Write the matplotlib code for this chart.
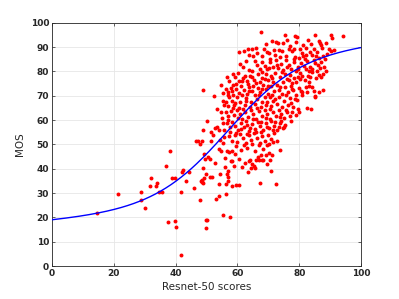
import numpy as np
import matplotlib
matplotlib.use("Agg")
import matplotlib.pyplot as plt

# -------------------------------
# DATA
# -------------------------------
# sparse points, lower-left part of the cloud
low_x = [14.5, 21.3, 28.8, 28.8, 30.2, 32.2, 31.6, 34.0, 33.6, 34.8, 35.7,
         36.8, 38.1, 38.7, 39.8, 37.7, 39.7, 40.0, 41.6, 41.9, 42.1, 42.5,
         43.5, 44.5, 46.0, 46.5, 47.3, 47.8, 47.8, 48.5, 48.5, 48.8, 49.0,
         49.3, 49.6, 49.0, 48.3, 48.8, 49.2, 49.7, 50.0, 50.2, 50.0, 51.2,
         51.8, 52.4, 52.6, 53.0, 53.9, 54.0, 54.4, 54.8, 55.5, 56.2, 56.3,
         56.8, 56.6, 56.9, 57.0, 56.1, 57.6, 57.8, 58.1, 58.1, 59.7, 60.4,
         48.6, 50.3, 50.5, 51.0]
low_y = [22.0, 29.5, 30.5, 27.2, 24.0, 36.0, 33.0, 34.0, 32.8, 30.3, 30.3,
         41.3, 47.5, 36.0, 36.0, 18.0, 18.5, 16.0, 4.5, 30.5, 38.5, 39.5,
         35.0, 38.5, 32.2, 51.2, 51.6, 50.0, 27.0, 34.5, 35.5, 72.3, 56.0,
         46.0, 44.0, 40.5, 35.0, 34.0, 36.0, 37.8, 19.0, 19.0, 15.5, 36.7,
         36.7, 70.0, 42.5, 27.4, 28.8, 33.6, 38.0, 74.4, 21.0, 29.7, 33.7,
         35.0, 38.0, 39.2, 36.8, 40.8, 20.3, 43.3, 43.2, 33.0, 33.2, 33.2,
         51.5, 59.8, 45.0, 44.0]

# top band, MOS 85-97
top_x = [67.5, 75.5, 78.5, 79.2, 85.0, 90.2, 94.3, 90.5, 86.3, 82.7, 76.2,
         71.3, 72.4, 73.2, 81.2, 86.8, 87.0, 88.7, 62.0, 63.3, 64.6, 60.6,
         68.5, 69.6, 70.3, 73.5, 74.3, 76.7, 77.5, 78.3, 80.2, 82.3, 84.8,
         89.6, 90.4, 83.4, 66.3, 65.1, 72.0, 75.7, 78.7, 79.8, 81.3, 84.0,
         85.4, 86.4, 87.7, 88.3,
         62.8, 63.9, 65.9, 67.9, 69.1, 70.6, 71.9, 73.7, 74.9, 77.1, 78.9,
         80.9, 82.1, 83.9, 85.7, 87.3, 89.1, 91.2]
top_y = [96.0, 95.0, 94.5, 94.0, 95.0, 94.8, 94.5, 93.7, 92.3, 93.0, 92.8,
         92.3, 92.0, 91.5, 91.0, 91.8, 91.0, 91.7, 88.5, 89.0, 89.3, 88.0,
         89.0, 88.0, 87.5, 88.6, 88.5, 89.0, 88.3, 89.4, 89.0, 89.6, 89.0,
         89.4, 88.3, 88.0, 87.5, 86.5, 86.7, 86.5, 86.0, 85.5, 86.3, 86.7,
         86.2, 85.7, 86.2, 85.0,
         84.1, 86.9, 89.5, 86.2, 91.3, 85.1, 88.7, 86.1, 91.6, 90.3, 91.9,
         87.4, 86.9, 91.1, 87.9, 89.6, 87.2, 88.9]

# band MOS 75-85
b80_x = [61.0, 61.7, 63.6, 62.4, 64.2, 65.6, 66.4, 67.2, 68.0, 68.8, 69.6,
         70.5, 71.6, 72.5, 73.2, 74.0, 74.8, 75.8, 76.6, 77.4, 78.3, 79.5,
         80.7, 81.6, 82.6, 83.5, 84.2, 85.0, 86.0, 87.1, 88.1, 85.8, 84.1,
         82.2, 80.4, 78.8, 77.1, 75.4, 73.9, 72.3, 70.8, 69.4, 68.1, 66.7,
         65.4, 64.8, 63.0, 67.3, 70.0, 71.5, 74.6, 76.0, 78.2, 79.7, 81.0,
         82.8, 86.4, 87.6, 86.9, 83.6, 81.8, 79.0, 77.7, 58.6, 59.1, 60.6,
         61.5, 56.7, 57.4,
         58.5, 60.1, 59.7, 61.9, 63.3, 64.6, 66.1, 67.8, 69.0, 70.2, 71.3,
         72.9, 74.3, 75.9, 76.8, 78.4, 79.6, 80.2, 81.9, 83.1, 84.9, 86.7,
         88.6, 85.3, 83.0]
b80_y = [83.0, 82.0, 80.6, 78.3, 78.2, 84.3, 82.5, 81.0, 84.0, 82.2, 80.8,
         83.7, 82.0, 84.5, 81.2, 83.0, 80.4, 84.7, 82.5, 80.8, 83.7, 82.0,
         83.6, 82.4, 84.3, 82.0, 81.0, 83.5, 82.5, 83.7, 82.0, 80.2, 79.7,
         80.8, 79.4, 80.3, 78.5, 79.0, 77.6, 79.3, 78.0, 79.0, 77.3, 78.8,
         76.6, 80.0, 76.0, 75.7, 76.3, 75.5, 75.8, 77.0, 77.2, 77.6, 78.0,
         78.3, 78.7, 78.8, 77.7, 77.7, 76.3, 75.6, 75.2, 79.0, 77.6, 76.0,
         76.0, 77.5, 76.2,
         74.5, 79.4, 74.8, 77.2, 74.9, 77.8, 75.3, 79.7, 76.9, 81.6, 77.1,
         82.7, 79.6, 81.9, 76.4, 84.9, 80.9, 76.9, 84.9, 80.1, 84.7, 81.3,
         80.3, 77.1, 75.6]

# band MOS 65-75
b70_x = [55.2, 56.3, 57.1, 57.9, 58.7, 59.5, 60.4, 61.2, 62.1, 63.0, 63.9,
         64.8, 65.7, 66.5, 67.4, 68.3, 69.2, 70.0, 70.9, 71.8, 72.7, 73.6,
         74.5, 75.5, 76.3, 77.2, 78.1, 79.0, 80.0, 81.0, 82.1, 83.3, 84.8,
         86.3, 87.6, 85.2, 85.0, 81.0, 78.6, 76.9, 75.1, 73.3, 71.5, 70.6,
         69.7, 68.8, 67.9, 66.2, 64.4, 62.7, 60.9, 59.9, 58.2, 57.3, 56.3,
         55.5, 57.1, 58.8, 60.5, 62.3, 64.0, 65.8, 67.5, 69.3, 71.0, 72.8,
         74.5, 76.3, 78.0, 77.2, 55.7,
         56.9, 58.1, 59.2, 61.4, 62.9, 63.7, 65.0, 66.9, 68.0, 69.8, 71.1,
         72.1, 73.9, 75.8, 77.5, 79.3, 80.5, 82.6, 84.2]
b70_y = [71.3, 72.8, 71.4, 73.0, 70.5, 72.6, 71.2, 74.0, 72.3, 70.7, 73.5,
         72.0, 70.4, 73.2, 71.6, 74.4, 72.8, 70.9, 73.9, 71.8, 74.3, 72.5,
         70.6, 73.6, 71.6, 74.0, 72.3, 70.3, 73.3, 71.5, 73.6, 74.0, 72.0,
         71.7, 72.2, 70.0, 69.3, 70.2, 68.6, 69.2, 68.0, 69.6, 67.8, 69.3,
         67.4, 69.5, 67.6, 68.7, 67.3, 69.0, 67.5, 69.3, 67.9, 69.6, 67.5,
         68.0, 65.7, 66.0, 65.0, 66.2, 65.2, 66.5, 65.3, 66.1, 65.6, 66.7,
         65.2, 66.4, 65.5, 67.1, 66.3,
         70.1, 72.1, 66.9, 70.2, 67.7, 71.9, 74.1, 70.2, 72.9, 73.9, 70.5,
         68.6, 73.6, 70.2, 72.7, 68.2, 72.1, 71.4, 73.4]

# band MOS 55-65
b60_x = [53.5, 55.0, 56.2, 57.1, 58.0, 58.9, 59.8, 60.7, 61.6, 62.5, 63.4,
         64.3, 65.2, 66.1, 67.0, 67.9, 68.8, 69.7, 70.6, 71.5, 72.4, 73.3,
         74.2, 75.1, 76.0, 76.9, 77.8, 82.5, 83.8, 79.5, 79.8, 56.6, 57.5,
         58.4, 59.3, 60.2, 61.1, 62.0, 62.9, 63.8, 64.7, 65.6, 66.5, 67.4,
         68.3, 69.2, 70.1, 71.0, 71.9, 72.8, 73.7, 74.6, 75.5, 75.2, 52.8,
         53.4, 54.0, 55.6, 55.5,
         54.8, 56.8, 58.6, 60.2, 61.9, 63.0, 64.9, 66.4, 67.6, 69.3, 70.5,
         72.0, 73.8, 75.7, 77.2, 78.8]
b60_y = [64.4, 61.0, 63.3, 61.7, 63.7, 62.0, 64.0, 62.3, 60.5, 63.2, 61.3,
         64.1, 62.4, 60.6, 63.6, 61.8, 64.2, 62.5, 60.6, 63.4, 61.7, 64.2,
         62.5, 60.8, 63.4, 61.6, 63.3, 64.9, 64.5, 64.7, 63.5, 58.8, 57.0,
         59.3, 57.6, 55.8, 58.7, 57.0, 59.6, 55.6, 58.3, 56.5, 59.3, 57.5,
         55.8, 58.7, 56.8, 59.5, 57.7, 55.9, 58.6, 56.8, 58.0, 57.3, 56.8,
         57.0, 55.8, 56.0, 59.0,
         63.4, 60.1, 64.8, 60.9, 64.6, 58.1, 60.3, 64.8, 59.1, 60.8, 64.4,
         59.3, 61.1, 64.1, 59.6, 61.9]

# band MOS 30-55
b45_x = [51.3, 52.0, 51.6, 54.1, 54.5, 55.3, 55.7, 57.3, 58.2, 59.1, 60.0,
         60.9, 61.8, 62.7, 63.6, 64.5, 65.4, 66.3, 67.2, 68.1, 69.0, 69.9,
         70.8, 71.7, 62.2, 64.8, 66.9, 69.5, 71.4, 73.9, 70.3, 69.3, 67.7,
         66.7, 71.2, 58.3, 59.2, 57.4, 56.5, 54.6, 64.2, 63.8, 66.1, 67.1,
         68.2, 64.8, 65.3, 65.8, 70.4, 70.9, 64.5, 67.3, 72.4, 68.0,
         57.7, 59.7, 61.3, 63.1, 64.1, 65.9, 67.7, 69.7, 71.4, 73.3, 74.1,
         59.5, 61.2, 63.2, 65.8, 68.4, 70.1, 72.7, 60.6, 62.5, 61.6, 63.3,
         69.6, 56.0, 58.8]
b45_y = [55.0, 54.0, 51.6, 48.0, 52.0, 50.5, 53.0, 53.4, 51.5, 53.8, 51.0,
         54.4, 52.5, 50.4, 53.7, 51.8, 54.5, 52.5, 50.6, 53.3, 51.4, 54.0,
         52.1, 54.6, 49.7, 50.3, 49.6, 49.8, 51.0, 47.8, 46.3, 45.8, 45.8,
         44.8, 45.5, 47.2, 46.0, 47.0, 47.5, 47.3, 43.8, 43.0, 43.8, 43.4,
         43.6, 41.8, 41.0, 40.2, 43.7, 39.0, 40.5, 34.0, 33.7, 43.7,
         55.1, 54.7, 56.4, 54.4, 56.9, 55.3, 54.9, 57.3, 56.1, 57.0, 59.6,
         49.3, 47.9, 48.5, 47.1, 48.3, 50.2, 51.3, 44.1, 42.2, 40.9, 38.7,
         42.0, 44.5, 41.1]

resnet = np.array(low_x + top_x + b80_x + b70_x + b60_x + b45_x)
mos = np.array(low_y + top_y + b80_y + b70_y + b60_y + b45_y)

# fitted logistic (parameters)
fit_lo, fit_amp, fit_mid, fit_scale, fit_lin = 18.5, 63.0, 57.0, 12.0, 0.1
xs = np.linspace(0, 100, 300)
ys = fit_lo + fit_amp / (1 + np.exp(-(xs - fit_mid) / fit_scale)) + fit_lin * xs

# -------------------------------
# PLOT
# -------------------------------
plt.rcParams['font.family'] = ['DejaVu Sans']
fig = plt.figure(figsize=(3.99, 2.99), dpi=100)
ax = fig.add_axes([0.130, 0.110, 0.775, 0.814])

ax.scatter(resnet, mos, s=8, c='red', marker='o', linewidths=0, zorder=3)
ax.plot(xs, ys, color='blue', lw=1.0, zorder=4)

ax.set_xlim(0, 100)
ax.set_ylim(0, 100)
ax.set_xticks(np.arange(0, 101, 20))
ax.set_yticks(np.arange(0, 101, 10))
ax.grid(True, color='#e6e6e6', lw=0.6, zorder=0)
ax.set_axisbelow(True)
ax.tick_params(direction='in', length=2.5, width=0.5, labelsize=6.5,
               colors='#262626', pad=2, top=True, right=True)
for lbl in ax.get_xticklabels() + ax.get_yticklabels():
    lbl.set_fontweight('bold')
for sp in ax.spines.values():
    sp.set_linewidth(0.6)
    sp.set_color('#262626')

ax.set_xlabel('Resnet-50 scores', fontsize=7.5, color='#262626', labelpad=3)
ax.set_ylabel('MOS', fontsize=7.5, color='#262626', labelpad=4)

fig.savefig('out.png', dpi=100, facecolor='white')
